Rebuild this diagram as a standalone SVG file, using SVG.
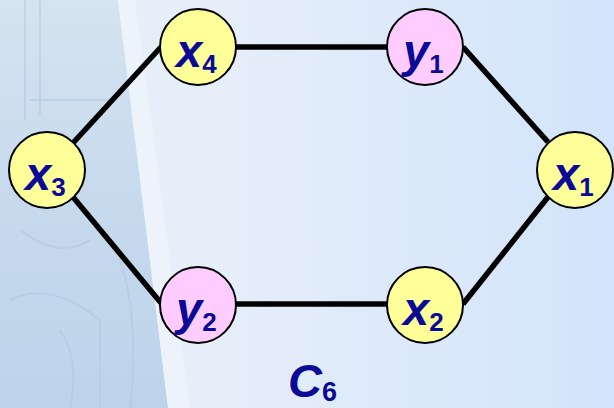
<svg xmlns="http://www.w3.org/2000/svg" width="614" height="408" viewBox="0 0 614 408">
<defs>
<linearGradient id="bg" x1="0" y1="0" x2="1" y2="0">
<stop offset="0" stop-color="#e6eef8"/>
<stop offset="0.35" stop-color="#e6eef9"/>
<stop offset="1" stop-color="#d2e4fb"/>
</linearGradient>
<linearGradient id="pic" x1="0" y1="0" x2="0" y2="1">
<stop offset="0" stop-color="#d6e3f0"/>
<stop offset="0.5" stop-color="#c6d9ed"/>
<stop offset="1" stop-color="#bed3ea"/>
</linearGradient>
<style>
.edge{stroke:#000;stroke-width:5.5;fill:none}
.nx{fill:#ffff99;stroke:#000;stroke-width:2}
.ny{fill:#ffccff;stroke:#000;stroke-width:2}
.lb{font-family:"Liberation Sans",Arial,sans-serif;font-weight:bold;font-style:italic;fill:#0a0a96}
.main{font-size:47px}
.sub{font-size:26px;font-style:normal}
.sub6{font-size:27px;font-style:normal}
</style>
</defs>
<rect width="614" height="408" fill="url(#bg)"/>
<polygon points="0,0 118,0 168,408 0,408" fill="url(#pic)"/>
<polygon points="118,0 135,0 190,408 168,408" fill="#f0f5fb" opacity="0.7"/>
<g fill="none" stroke="#aec6e0" stroke-width="2" opacity="0.5">
<path d="M25,0 V120 M40,0 V115 M30,100 H110 M20,230 Q60,260 90,240 M10,300 Q50,280 100,320 V408 M60,330 Q80,360 70,408 M120,260 Q140,320 130,408"/>
</g>
<g id="connectors">
<line class="edge" x1="236" y1="47" x2="387" y2="47"/>
<line class="edge" x1="236" y1="304" x2="387" y2="304"/>
<line class="edge" x1="73" y1="143" x2="161" y2="47"/>
<line class="edge" x1="73" y1="197" x2="161" y2="303"/>
<line class="edge" x1="463" y1="47" x2="548" y2="142"/>
<line class="edge" x1="463" y1="304" x2="548" y2="197"/>
</g>
<g id="x4"><circle class="nx" cx="198" cy="47" r="38"/><text class="lb" x="176" y="67"><tspan class="main">x</tspan><tspan class="sub" dy="6">4</tspan></text></g>
<g id="y1"><circle class="ny" cx="425" cy="47" r="38"/><text class="lb" x="403" y="67"><tspan class="main">y</tspan><tspan class="sub" dy="6">1</tspan></text></g>
<g id="x3"><circle class="nx" cx="47" cy="170" r="38"/><text class="lb" x="25" y="190"><tspan class="main">x</tspan><tspan class="sub" dy="6">3</tspan></text></g>
<g id="x1"><circle class="nx" cx="575" cy="170" r="38"/><text class="lb" x="553" y="190"><tspan class="main">x</tspan><tspan class="sub" dy="6">1</tspan></text></g>
<g id="y2"><circle class="ny" cx="198" cy="305" r="38"/><text class="lb" x="176" y="325"><tspan class="main">y</tspan><tspan class="sub" dy="6">2</tspan></text></g>
<g id="x2"><circle class="nx" cx="425" cy="305" r="38"/><text class="lb" x="403" y="325"><tspan class="main">x</tspan><tspan class="sub" dy="6">2</tspan></text></g>
<text class="lb" x="288" y="397"><tspan class="main">C</tspan><tspan class="sub6" dy="4">6</tspan></text>
</svg>
